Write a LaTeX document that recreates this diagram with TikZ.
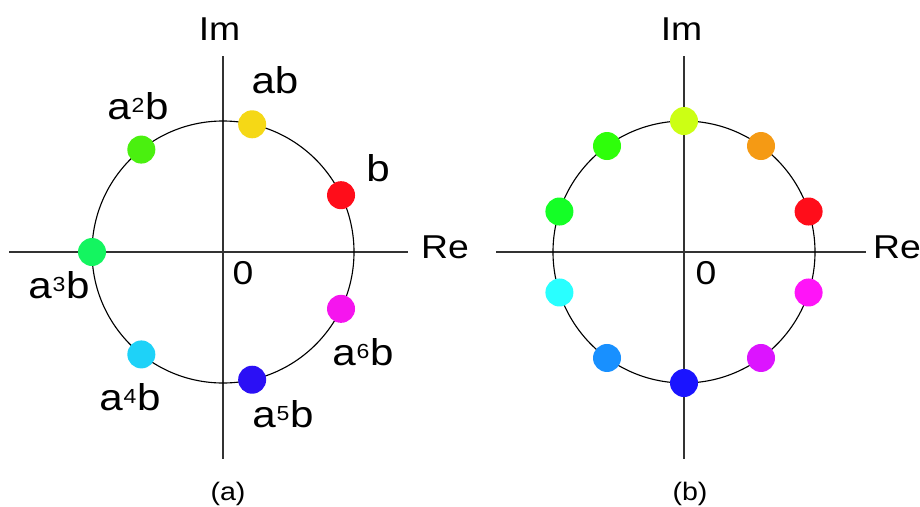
\documentclass[tikz,border=0pt]{standalone}
\usepackage{fontspec}
\setmainfont[FakeStretch=1.13]{Liberation Sans}
\usetikzlibrary{positioning}

\definecolor{cRed}{HTML}{FF0D1A}
\definecolor{cYellow}{HTML}{F5D816}
\definecolor{cLime}{HTML}{4AF00F}
\definecolor{cSpring}{HTML}{14F560}
\definecolor{cSky}{HTML}{1ED2F8}
\definecolor{cBlue}{HTML}{2B10F5}
\definecolor{cMagenta}{HTML}{F515EE}
\definecolor{dRed}{HTML}{FF0D1A}
\definecolor{dOrange}{HTML}{F59A14}
\definecolor{dYellow}{HTML}{CCFF14}
\definecolor{dGreen}{HTML}{2EFF0A}
\definecolor{dGreenB}{HTML}{14FF26}
\definecolor{dCyan}{HTML}{29FFFF}
\definecolor{dAzure}{HTML}{1890FF}
\definecolor{dBlue}{HTML}{1A14FF}
\definecolor{dViolet}{HTML}{DC14FF}
\definecolor{dMagenta}{HTML}{FF14F8}

\newcommand{\pw}[1]{\kern0.5pt\raisebox{5pt}{\fontsize{14.5}{15}\selectfont #1}\kern0.5pt}

\begin{document}
\begin{tikzpicture}[
                x=0.25mm, y=0.25mm,
                axis/.style={draw=black!80, line width=0.9pt},
                ring/.style={draw=black, line width=0.8pt},
                dot/.style={circle, inner sep=0pt, minimum size=7mm},
                elem/.style={inner sep=0pt, font=\fontsize{26.5}{30}\selectfont},
                axlabel/.style={inner sep=0pt, font=\fontsize{23.5}{28}\selectfont},
                caption/.style={inner sep=0pt, font=\fontsize{18}{21}\selectfont}
            ]

            \useasboundingbox (0,0) rectangle (920,506);

            % (a)
            \coordinate (Oa) at (223,254);
            \coordinate (Na) at (223,450);
            \coordinate (Sa) at (223,47);
            \coordinate (Wa) at (9,254);
            \coordinate (Ea) at (408,254);
            \draw[axis] (Na) -- (Sa);
            \draw[axis] (Wa) -- (Ea);
            \draw[ring] (Oa) circle (131);

            \node[dot, fill=cRed]     (pb)  at ([shift={(25.71:131)}]Oa) {};
            \node[dot, fill=cYellow]  (pab) at ([shift={(77.14:131)}]Oa) {};
            \node[dot, fill=cLime]    (pa2) at ([shift={(128.57:131)}]Oa) {};
            \node[dot, fill=cSpring]  (pa3) at ([shift={(180:131)}]Oa) {};
            \node[dot, fill=cSky]     (pa4) at ([shift={(231.43:131)}]Oa) {};
            \node[dot, fill=cBlue]    (pa5) at ([shift={(282.86:131)}]Oa) {};
            \node[dot, fill=cMagenta] (pa6) at ([shift={(334.29:131)}]Oa) {};

            \node[elem] (lb)  at (378,338) {b};
            \node[elem] (lab) at (275,426) {ab};
            \node[elem] (la2) at (138,400) {a\pw{2}b};
            \node[elem] (la3) at (59,221)  {a\pw{3}b};
            \node[elem] (la4) at (130,109) {a\pw{4}b};
            \node[elem] (la5) at (283,92)  {a\pw{5}b};
            \node[elem] (la6) at (363,154) {a\pw{6}b};

            \node[axlabel] (ima)   at (219.5,477) {Im};
            \node[axlabel] (rea)   at (445,259)   {Re};
            \node[axlabel] (zeroa) at (243,233)   {0};
            \node[caption] (capa)  at (228,12)    {(a)};

            % (b)
            \coordinate (Ob) at (684,254);
            \coordinate (Nb) at (684,450);
            \coordinate (Sb) at (684,47);
            \coordinate (Wb) at (496,254);
            \coordinate (Eb) at (866,254);
            \draw[axis] (Nb) -- (Sb);
            \draw[axis] (Wb) -- (Eb);
            \draw[ring] (Ob) circle (131);

            \node[dot, fill=dRed]     (q0) at ([shift={(18:131)}]Ob) {};
            \node[dot, fill=dOrange]  (q1) at ([shift={(54:131)}]Ob) {};
            \node[dot, fill=dYellow]  (q2) at ([shift={(90:131)}]Ob) {};
            \node[dot, fill=dGreen]   (q3) at ([shift={(126:131)}]Ob) {};
            \node[dot, fill=dGreenB]  (q4) at ([shift={(162:131)}]Ob) {};
            \node[dot, fill=dCyan]    (q5) at ([shift={(198:131)}]Ob) {};
            \node[dot, fill=dAzure]   (q6) at ([shift={(234:131)}]Ob) {};
            \node[dot, fill=dBlue]    (q7) at ([shift={(270:131)}]Ob) {};
            \node[dot, fill=dViolet]  (q8) at ([shift={(306:131)}]Ob) {};
            \node[dot, fill=dMagenta] (q9) at ([shift={(342:131)}]Ob) {};

            \node[axlabel] (imb)   at (681.5,477) {Im};
            \node[axlabel] (reb)   at (897,259)   {Re};
            \node[axlabel] (zerob) at (706,233)   {0};
            \node[caption] (capb)  at (690,12)    {(b)};

        \end{tikzpicture}
\end{document}
